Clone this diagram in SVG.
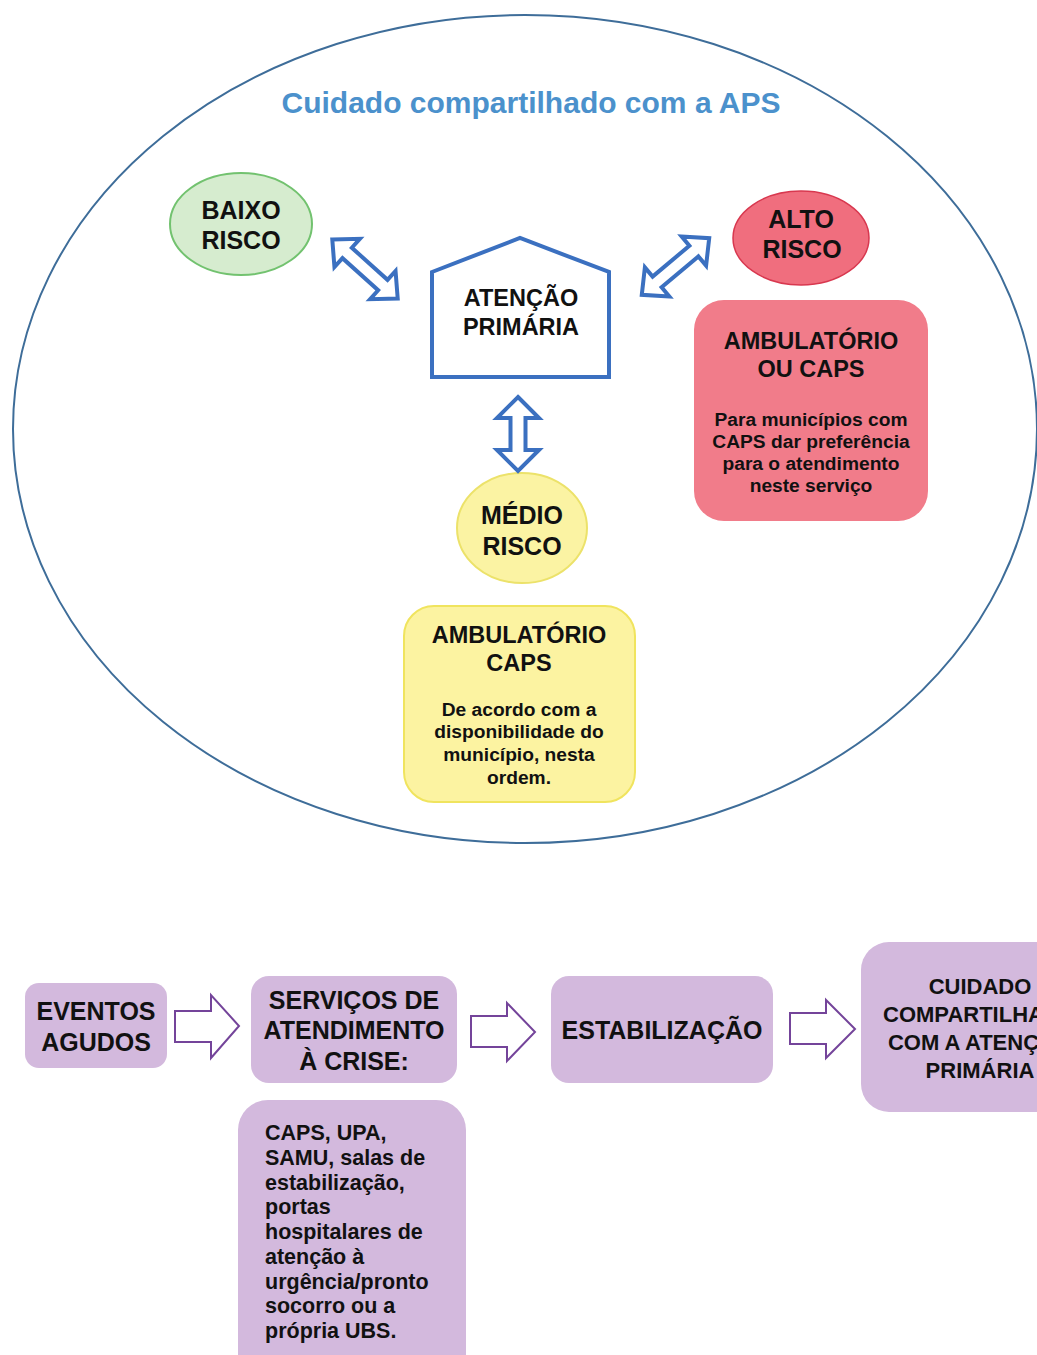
<svg xmlns="http://www.w3.org/2000/svg" width="1037" height="1355" viewBox="0 0 1037 1355">
<defs>
<style>
text{font-family:"Liberation Sans",Arial,sans-serif;font-weight:bold;fill:#111;text-anchor:middle}
.frame{fill:none;stroke:#3e6d99;stroke-width:2}
.title{fill:#4b91cc;font-size:30px}
.blue{fill:#fff;stroke:#3b70c0;stroke-width:4;stroke-linejoin:miter}
.pur{fill:#d3b9dd}
.parr{fill:#fff;stroke:#74449a;stroke-width:2}
.h24{font-size:25px}
.h23{font-size:23.5px}
.h25{font-size:25px}
.b19{font-size:19.2px}
.l21{font-size:21.5px;text-anchor:start}
.c22{font-size:22px}
</style>
<path id="dblV" d="M0,-37 L21,-16 L7.5,-16 L7.5,16 L21,16 L0,37 L-21,16 L-7.5,16 L-7.5,-16 L-21,-16 Z"/>
<path id="dblD" d="M-44,0 L-24,-19 L-24,-7 L24,-7 L24,-19 L44,0 L24,19 L24,7 L-24,7 L-24,19 Z"/>
</defs>
<rect width="1037" height="1355" fill="#fff"/>

<g id="frame">
<ellipse class="frame" cx="525" cy="429" rx="512" ry="414"/>
<text class="title" x="531" y="113">Cuidado compartilhado com a APS</text>
</g>

<g id="baixo-risco">
<ellipse cx="241" cy="224" rx="71" ry="51" fill="#d6eccf" stroke="#72c26f" stroke-width="2"/>
<text class="h24" x="241" y="219">BAIXO</text>
<text class="h24" x="241" y="249">RISCO</text>
</g>

<g id="atencao-primaria">
<polygon class="blue" points="432,272 520,238 609,272 609,377 432,377"/>
<text class="h23" x="521" y="306">ATENÇÃO</text>
<text class="h23" x="521" y="335">PRIMÁRIA</text>
</g>

<g id="alto-risco">
<ellipse cx="801" cy="238" rx="68" ry="47" fill="#f06e7e" stroke="#d8384f" stroke-width="1.5"/>
<text class="h24" x="801" y="228">ALTO</text>
<text class="h24" x="802" y="258">RISCO</text>
</g>

<g id="ambulatorio-caps-alto">
<rect x="694" y="300" width="234" height="221" rx="30" fill="#f17c8a"/>
<text class="h23" x="811" y="349">AMBULATÓRIO</text>
<text class="h23" x="811" y="377">OU CAPS</text>
<text class="b19" x="811" y="426">Para municípios com</text>
<text class="b19" x="811" y="448">CAPS dar preferência</text>
<text class="b19" x="811" y="470">para o atendimento</text>
<text class="b19" x="811" y="492">neste serviço</text>
</g>

<g id="medio-risco">
<ellipse cx="522" cy="528" rx="65" ry="55" fill="#fbf3a3" stroke="#ece26a" stroke-width="2"/>
<text class="h25" x="522" y="524">MÉDIO</text>
<text class="h25" x="522" y="555">RISCO</text>
</g>

<g id="ambulatorio-caps-medio">
<rect x="404" y="606" width="231" height="196" rx="30" fill="#fcf3a1" stroke="#f0e45e" stroke-width="2"/>
<text class="h23" x="519" y="643">AMBULATÓRIO</text>
<text class="h23" x="519" y="671">CAPS</text>
<text class="b19" x="519" y="716">De acordo com a</text>
<text class="b19" x="519" y="738">disponibilidade do</text>
<text class="b19" x="519" y="761">município, nesta</text>
<text class="b19" x="519" y="784">ordem.</text>
</g>

<g id="eventos-agudos">
<rect class="pur" x="25" y="983" width="142" height="85" rx="14"/>
<text class="h25" x="96" y="1020">EVENTOS</text>
<text class="h25" x="96" y="1051">AGUDOS</text>
</g>

<g id="servicos-crise">
<rect class="pur" x="251" y="976" width="206" height="107" rx="18"/>
<text class="h25" x="354" y="1009">SERVIÇOS DE</text>
<text class="h25" x="354" y="1039">ATENDIMENTO</text>
<text class="h25" x="354" y="1070">À CRISE:</text>
</g>

<g id="servicos-lista">
<rect class="pur" x="238" y="1100" width="228" height="290" rx="30"/>
<text class="l21" x="265" y="1140">CAPS, UPA,</text>
<text class="l21" x="265" y="1165">SAMU, salas de</text>
<text class="l21" x="265" y="1190">estabilização,</text>
<text class="l21" x="265" y="1214">portas</text>
<text class="l21" x="265" y="1239">hospitalares de</text>
<text class="l21" x="265" y="1264">atenção à</text>
<text class="l21" x="265" y="1289">urgência/pronto</text>
<text class="l21" x="265" y="1313">socorro ou a</text>
<text class="l21" x="265" y="1338">própria UBS.</text>
</g>

<g id="estabilizacao">
<rect class="pur" x="551" y="976" width="222" height="107" rx="18"/>
<text class="h25" x="662" y="1039">ESTABILIZAÇÃO</text>
</g>

<g id="cuidado-compartilhado">
<rect class="pur" x="861" y="942" width="238" height="170" rx="28"/>
<text class="c22" x="980" y="994">CUIDADO</text>
<text class="c22" x="980" y="1022">COMPARTILHADO</text>
<text class="c22" x="980" y="1050">COM A ATENÇÃO</text>
<text class="c22" x="980" y="1078">PRIMÁRIA</text>
</g>

<g id="connectors">
<use href="#dblD" class="blue" transform="translate(365,269) rotate(42)"/>
<use href="#dblD" class="blue" transform="translate(675.5,266.5) rotate(-40)"/>
<use href="#dblV" class="blue" transform="translate(518,434)"/>
<polygon class="parr" points="175,1011 211,1011 211,995 239,1026 211,1058 211,1042 175,1042"/>
<polygon class="parr" points="471,1016 507,1016 507,1003 535,1032 507,1061 507,1047 471,1047"/>
<polygon class="parr" points="790,1013 826,1013 826,1000 855,1029 826,1058 826,1044 790,1044"/>
</g>
</svg>
